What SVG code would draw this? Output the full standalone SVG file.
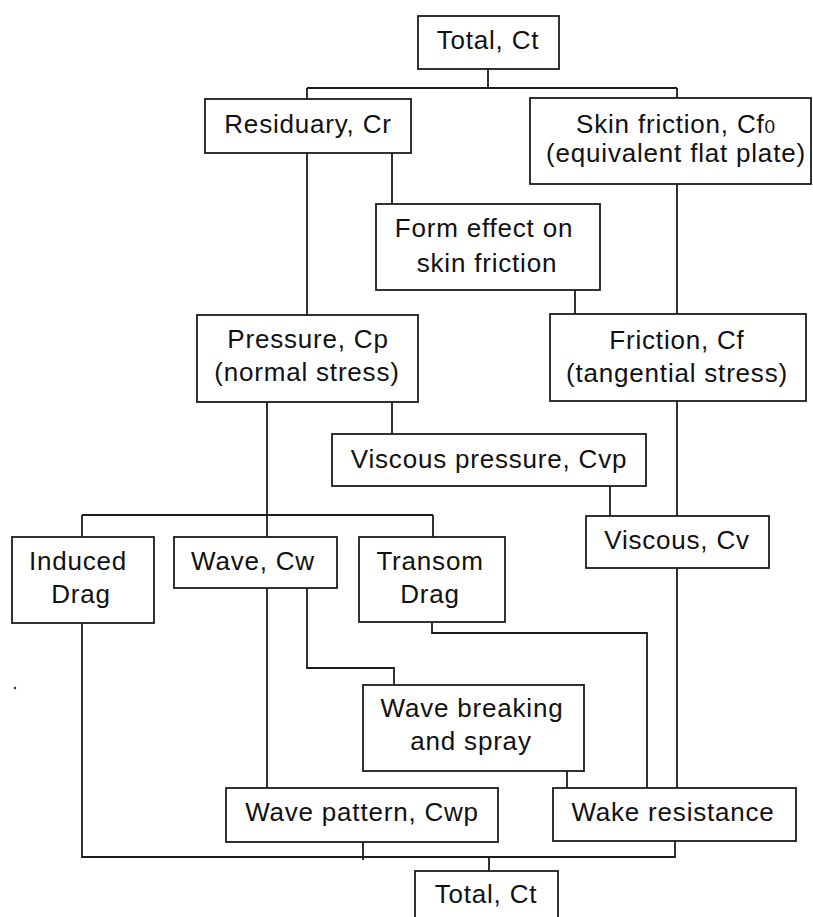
<svg xmlns="http://www.w3.org/2000/svg" width="813" height="917" viewBox="0 0 813 917">
<style>
.box{fill:#fff;stroke:#1c1c1c;stroke-width:1.8}
.t{font-family:"Liberation Sans",Arial,sans-serif;font-size:26px;letter-spacing:0.8px;fill:#111;text-anchor:middle}
.c{fill:none;stroke:#1c1c1c;stroke-width:1.8}
</style>
<rect width="813" height="917" fill="#fff"/>
<g id="connectors" class="c">
<path d="M488 69V88M307 88H677M307 88V99M677 88V98"/>
<path d="M307 153V315M392 153V204M677 184V314M575 290V314"/>
<path d="M267 402V537M82 515H433M82 515V537M433 515V537M392 402V434"/>
<path d="M610 486V516M677 401V516M677 568V788"/>
<path d="M432 622V633H647V788"/>
<path d="M267 588V788M307 588V668H394V685"/>
<path d="M567 771V788"/>
<path d="M82 623V857H675V841M363 842V860M489 857V871"/>
</g>
<g id="total_top"><rect class="box" x="418" y="16" width="141" height="53"/><text class="t" x="488" y="49">Total, Ct</text></g>
<g id="residuary"><rect class="box" x="205" y="99" width="206" height="54"/><text class="t" x="308" y="133">Residuary, Cr</text></g>
<g id="skin_friction"><rect class="box" x="530" y="98" width="281" height="86"/><text class="t" x="676" y="133">Skin friction, Cf<tspan font-size="19">0</tspan></text><text class="t" x="676" y="162">(equivalent flat plate)</text></g>
<g id="form_effect"><rect class="box" x="376" y="204" width="224" height="86"/><text class="t" x="484" y="237">Form effect on</text><text class="t" x="487" y="272">skin friction</text></g>
<g id="pressure"><rect class="box" x="197" y="315" width="221" height="87"/><text class="t" x="308" y="348">Pressure, Cp</text><text class="t" x="307" y="381">(normal stress)</text></g>
<g id="friction"><rect class="box" x="550" y="314" width="256" height="87"/><text class="t" x="677" y="349">Friction, Cf</text><text class="t" x="677" y="382">(tangential stress)</text></g>
<g id="viscous_pressure"><rect class="box" x="332" y="434" width="314" height="52"/><text class="t" x="489" y="468">Viscous pressure, Cvp</text></g>
<g id="viscous"><rect class="box" x="586" y="516" width="183" height="52"/><text class="t" x="677" y="549">Viscous, Cv</text></g>
<g id="induced_drag"><rect class="box" x="12" y="537" width="142" height="86"/><text class="t" x="78" y="570">Induced</text><text class="t" x="81" y="603">Drag</text></g>
<g id="wave"><rect class="box" x="174" y="537" width="163" height="51"/><text class="t" x="253" y="570">Wave, Cw</text></g>
<g id="transom_drag"><rect class="box" x="359" y="537" width="146" height="85"/><text class="t" x="430" y="570">Transom</text><text class="t" x="430" y="603">Drag</text></g>
<g id="wave_breaking"><rect class="box" x="363" y="685" width="221" height="86"/><text class="t" x="472" y="717">Wave breaking</text><text class="t" x="471" y="750">and spray</text></g>
<g id="wave_pattern"><rect class="box" x="226" y="788" width="272" height="54"/><text class="t" x="362" y="821">Wave pattern, Cwp</text></g>
<g id="wake_resistance"><rect class="box" x="553" y="788" width="243" height="53"/><text class="t" x="673" y="821">Wake resistance</text></g>
<g id="total_bottom"><rect class="box" x="415" y="871" width="143" height="60"/><text class="t" x="486" y="903">Total, Ct</text></g>
<circle cx="15" cy="688" r="1.2" fill="#333"/>
</svg>
